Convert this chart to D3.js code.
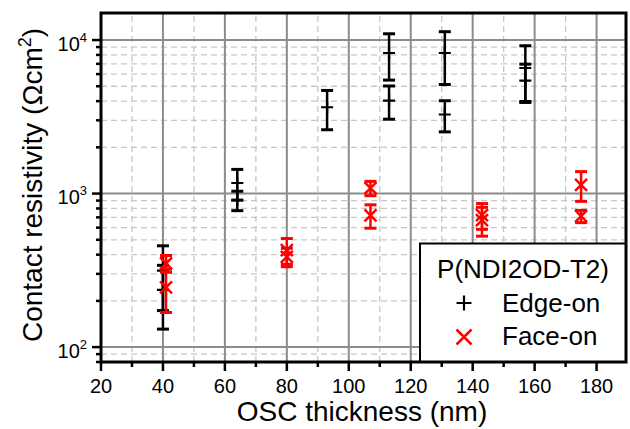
<!DOCTYPE html>
<html>
<head>
<meta charset="utf-8">
<script src="https://cdn.jsdelivr.net/npm/d3@7"></script>
<style>
  body { margin: 0; background: #fff; }
  text { font-family: "Liberation Sans", Arial, sans-serif; }
</style>
</head>
<body>
<div id="chart"></div>
<script>
// Edge-on points (black +), symmetric error bars
const edgeX = [40, 40, 64, 64, 93, 113, 113, 131, 131, 157, 157];
const edgeY = [315, 236, 1172, 905, 3650, 8234, 4036, 8234, 3273, 6577, 5441];
const edgeErr = [142, 105, 265, 131, 1045, 2750, 985, 3100, 750, 2600, 1520];

// Face-on points (red x)
const faceX = [41, 41, 80, 80, 107, 107, 143, 143, 175, 175];
const faceY = [351, 245, 428, 387, 1085, 720, 723, 671, 1140, 712];
const faceErr = [44, 77, 82, 53, 116, 125, 138, 143, 250, 65];

const xTicks = [20, 40, 60, 80, 100, 120, 140, 160, 180];
const xMinor = [30, 50, 70, 90, 110, 130, 150, 170];
const yTicks = [100, 1000, 10000];
const yMinor = [80, 90, 200, 300, 400, 500, 600, 700, 800, 900,
  2000, 3000, 4000, 5000, 6000, 7000, 8000, 9000];

const legendTitle = "P(NDI2OD-T2)";
const seriesNames = ["Edge-on", "Face-on"];

const width = 630, height = 429;
const margin = { left: 101, top: 13, right: 4, bottom: 67 };

const svg = d3.select("#chart").append("svg")
  .attr("width", width)
  .attr("height", height);

const x = d3.scaleLinear().domain([20, 189.5]).range([margin.left, width - margin.right]);
const y = d3.scaleLog().domain([80, 15000]).range([height - margin.bottom, margin.top]);

const x0 = margin.left, x1 = width - margin.right;
const y0 = height - margin.bottom, y1 = margin.top;

// grid
const grid = svg.append("g");
grid.selectAll(".vminor").data(xMinor).enter().append("line")
  .attr("x1", d => x(d)).attr("x2", d => x(d))
  .attr("y1", y0).attr("y2", y1)
  .attr("stroke", "#c8c8c8").attr("stroke-width", 1.3)
  .attr("stroke-dasharray", "6,4");
grid.selectAll(".hminor").data(yMinor).enter().append("line")
  .attr("x1", x0).attr("x2", x1)
  .attr("y1", d => y(d)).attr("y2", d => y(d))
  .attr("stroke", "#c8c8c8").attr("stroke-width", 1.3)
  .attr("stroke-dasharray", "6,4");
grid.selectAll(".vmajor").data(xTicks.slice(1)).enter().append("line")
  .attr("x1", d => x(d)).attr("x2", d => x(d))
  .attr("y1", y0).attr("y2", y1)
  .attr("stroke", "#8c8c8c").attr("stroke-width", 2);
grid.selectAll(".hmajor").data(yTicks).enter().append("line")
  .attr("x1", x0).attr("x2", x1)
  .attr("y1", d => y(d)).attr("y2", d => y(d))
  .attr("stroke", "#8c8c8c").attr("stroke-width", 2);

// error bars + markers
function drawSeries(xs, ys, errs, color, marker) {
  const g = svg.append("g");
  const pts = xs.map((d, i) => ({ x: d, y: ys[i], e: errs[i] }));
  const capW = 6;
  pts.forEach(p => {
    const cx = x(p.x);
    const top = y(p.y + p.e), bot = y(p.y - p.e);
    g.append("line").attr("x1", cx).attr("x2", cx).attr("y1", top).attr("y2", bot)
      .attr("stroke", color).attr("stroke-width", 2.5);
    [top, bot].forEach(yy => {
      g.append("line").attr("x1", cx - capW).attr("x2", cx + capW)
        .attr("y1", yy).attr("y2", yy)
        .attr("stroke", color).attr("stroke-width", 3);
    });
    marker(g, cx, y(p.y), color, 6);
  });
}

function plus(g, cx, cy, color, s) {
  g.append("path")
    .attr("d", `M${cx - s},${cy}H${cx + s}M${cx},${cy - s}V${cy + s}`)
    .attr("stroke", color).attr("stroke-width", 2.2).attr("fill", "none");
}

function cross(g, cx, cy, color, s) {
  g.append("path")
    .attr("d", `M${cx - s},${cy - s}L${cx + s},${cy + s}M${cx - s},${cy + s}L${cx + s},${cy - s}`)
    .attr("stroke", color).attr("stroke-width", 2.5).attr("fill", "none");
}

drawSeries(edgeX, edgeY, edgeErr, "#000", plus);
drawSeries(faceX, faceY, faceErr, "#ff0000", cross);

// legend
const lg = svg.append("g");
lg.append("rect")
  .attr("x", 420).attr("y", 243.5)
  .attr("width", x1 - 420).attr("height", y0 - 243.5)
  .attr("fill", "#fff").attr("stroke", "#000").attr("stroke-width", 2);
lg.append("text").attr("x", 523).attr("y", 278)
  .attr("text-anchor", "middle").attr("font-size", 26).text(legendTitle);
plus(lg, 464, 303, "#000", 7.5);
cross(lg, 464, 337, "#ff0000", 7.5);
lg.append("text").attr("x", 502).attr("y", 312).attr("font-size", 26).text(seriesNames[0]);
lg.append("text").attr("x", 502).attr("y", 345).attr("font-size", 26).text(seriesNames[1]);

// frame
svg.append("rect")
  .attr("x", x0).attr("y", y1)
  .attr("width", x1 - x0).attr("height", y0 - y1)
  .attr("fill", "none").attr("stroke", "#000").attr("stroke-width", 3);

// x axis ticks
const ax = svg.append("g");
ax.selectAll(".xt").data(xTicks).enter().append("line")
  .attr("x1", d => x(d)).attr("x2", d => x(d))
  .attr("y1", y0).attr("y2", y0 + 9)
  .attr("stroke", "#000").attr("stroke-width", 2.5);
ax.selectAll(".xm").data(xMinor).enter().append("line")
  .attr("x1", d => x(d)).attr("x2", d => x(d))
  .attr("y1", y0).attr("y2", y0 + 5)
  .attr("stroke", "#000").attr("stroke-width", 2.5);
ax.selectAll(".xl").data(xTicks).enter().append("text")
  .attr("x", d => x(d)).attr("y", 393)
  .attr("text-anchor", "middle").attr("font-size", 20)
  .text(d => d);

// y axis ticks
ax.selectAll(".yt").data(yTicks).enter().append("line")
  .attr("x1", x0 - 9).attr("x2", x0)
  .attr("y1", d => y(d)).attr("y2", d => y(d))
  .attr("stroke", "#000").attr("stroke-width", 2.5);
ax.selectAll(".ym").data(yMinor).enter().append("line")
  .attr("x1", x0 - 5).attr("x2", x0)
  .attr("y1", d => y(d)).attr("y2", d => y(d))
  .attr("stroke", "#000").attr("stroke-width", 2.5);
const yl = ax.selectAll(".yl").data(yTicks).enter().append("text")
  .attr("x", 87).attr("y", d => y(d) + 10.5)
  .attr("text-anchor", "end").attr("font-size", 20);
yl.append("tspan").text("10");
yl.append("tspan").attr("dy", -9).attr("font-size", 13).text(d => Math.round(Math.log10(d)));

// axis titles
svg.append("text")
  .attr("x", 362).attr("y", 421)
  .attr("text-anchor", "middle").attr("font-size", 28)
  .text("OSC thickness (nm)");

const yt = svg.append("text")
  .attr("transform", `translate(42,185) rotate(-90)`)
  .attr("text-anchor", "middle").attr("font-size", 28);
yt.append("tspan").text("Contact resistivity (Ωcm");
yt.append("tspan").attr("dy", -11).attr("font-size", 18).text("2");
yt.append("tspan").attr("dy", 11).text(")");
</script>
</body>
</html>
